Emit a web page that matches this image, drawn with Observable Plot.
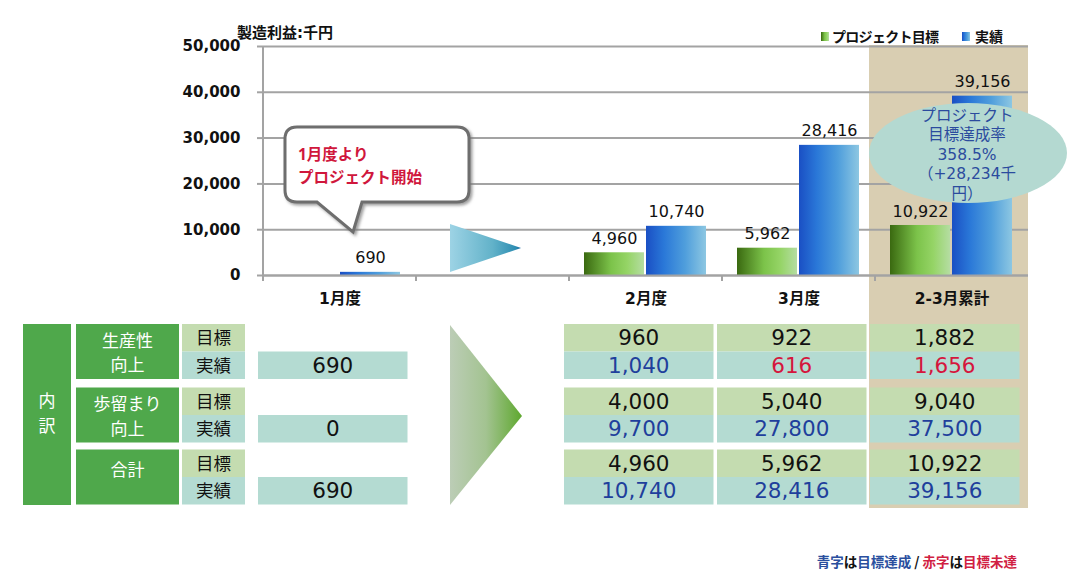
<!DOCTYPE html>
<html><head><meta charset="utf-8">
<script src="https://cdn.jsdelivr.net/npm/d3@7"></script>
<script src="https://cdn.jsdelivr.net/npm/@observablehq/plot@0.6"></script>
<style>
body{margin:0;background:#fff;}
#chart{position:relative;width:1081px;height:588px;}
</style></head><body><div id="chart"></div>
<script>
// ---- data ----
const months = ["1月度", " ", "2月度", "3月度", "2-3月累計"];
const seriesNames = ["プロジェクト目標", "実績"];
const targetValues = [null, null, 4960, 5962, 10922];
const actualValues = [690, null, 10740, 28416, 39156];
const yTicks = [0, 10000, 20000, 30000, 40000, 50000];
const yTitle = "製造利益:千円";

const tableGroups = ["生産性\n向上", "歩留まり\n向上", "合計"];
const tableRowLabels = ["目標", "実績"];
const tableSide = "内訳";
const prodTarget = [null, null, 960, 922, 1882];
const prodActual = [690, null, 1040, 616, 1656];
const yieldTarget = [null, null, 4000, 5040, 9040];
const yieldActual = [0, null, 9700, 27800, 37500];
const totalTarget = [null, null, 4960, 5962, 10922];
const totalActual = [690, null, 10740, 28416, 39156];

const rateLines = ["プロジェクト", "目標達成率", "358.5%", "（+28,234千", "円）"];
const calloutLines = ["1月度より", "プロジェクト開始"];
const noteParts = [["青字", "blue"], ["は", "black"], ["目標達成", "blue"], [" / ", "black"], ["赤字", "red"], ["は", "black"], ["目標未達", "red"]];

// ---- colours ----
const C = {grid: "#a3a3a3", tan: "#d9ceb2", dark: "#4fa84b", lightGreen: "#c4dcb0", lightTeal: "#b4dbd2",
  blue: "#1f3f9c", red: "#d5163d", ellipse: "#b4d9d1", ellipseText: "#2b4b9e", callout: "#d0173c"};

const fmt = d3.format(",");
const allData = months.flatMap((m, i) => [
  {month: m, series: seriesNames[0], value: targetValues[i]},
  {month: m, series: seriesNames[1], value: actualValues[i]}
]);
const barData = allData.filter(d => d.value != null);

const plot = Plot.plot({
  width: 1081, height: 588,
  marginTop: 46, marginBottom: 313, marginLeft: 263, marginRight: 53,
  style: {fontFamily: "'DejaVu Sans', 'Noto Sans CJK JP', sans-serif", fontSize: "14px", background: "transparent", overflow: "visible", color: "#111"},
  fx: {domain: months, padding: 0, label: null},
  x: {domain: seriesNames, paddingInner: 0.03, paddingOuter: 0.23, axis: null},
  y: {domain: [0, 50000], label: null},
  marks: [
    Plot.gridY(yTicks, {stroke: C.grid, strokeOpacity: 1, strokeWidth: 2}),
    Plot.barY(allData, {fx: "month", x: "series", y: "value", fill: "url(#gradGreen)", filter: d => d.series === seriesNames[0]}),
    Plot.barY(allData, {fx: "month", x: "series", y: "value", fill: "url(#gradBlue)", filter: d => d.series === seriesNames[1]}),
    Plot.ruleY([0], {stroke: C.grid, strokeWidth: 2}),
    Plot.text(barData, {fx: "month", x: "series", y: "value", text: d => fmt(d.value), dy: -14, fontSize: 16, fill: "#111"}),
    Plot.axisY(yTicks, {tickFormat: fmt, tickSize: 6, tickPadding: 17, stroke: C.grid, strokeWidth: 2, fill: "#111", fontSize: 15, fontWeight: "bold", label: null, facetAnchor: "left"}),
    Plot.axisFx({anchor: "bottom", tickSize: 0, tickPadding: 17, fontSize: 15.5, fontWeight: "bold", fill: "#111", label: null})
  ]
});
document.getElementById("chart").appendChild(plot);

// ---- decorations derived from the plot's scales ----
const svg = d3.select(plot);
const fx = plot.scale("fx");
const ys = plot.scale("y");
const bw = fx.bandwidth;
const [fx0, fx1] = fx.range;
const y0 = ys.apply(0), yTop = ys.apply(50000);

const defs = svg.append("defs");
function grad(id, stops) {
  const g = defs.append("linearGradient").attr("id", id).attr("x1", 0).attr("x2", 1).attr("y1", 0).attr("y2", 0);
  stops.forEach(([o, c]) => g.append("stop").attr("offset", o).attr("stop-color", c));
}
grad("gradGreen", [[0, "#3a6910"], [0.45, "#7cc34a"], [0.72, "#95d466"], [1, "#b5dda2"]]);
grad("gradBlue", [[0, "#1a4fc4"], [0.3, "#2a78d8"], [0.65, "#4f9edc"], [1, "#8dc7e2"]]);
grad("gradArrowBlue", [[0, "#9dd3e5"], [0.6, "#62b2c9"], [0.93, "#2d8db2"], [1, "#11609f"]]);
grad("gradArrowGreen", [[0, "#bccdb6"], [0.5, "#a3c391"], [1, "#5ea82e"]]);
const f = defs.append("filter").attr("id", "shadow").attr("x", "-10%").attr("y", "-10%").attr("width", "130%").attr("height", "140%");
f.append("feDropShadow").attr("dx", 2).attr("dy", 2).attr("stdDeviation", 1.5).attr("flood-color", "#777").attr("flood-opacity", 0.7);

// tan highlight behind the cumulative column (chart + table)
const lastX = fx.apply(months[4]);
svg.insert("rect", ":first-child").attr("x", lastX - 6).attr("y", yTop - 1).attr("width", fx1 - lastX + 6).attr("height", 508 - yTop + 1).attr("fill", C.tan);

// axis lines and category ticks
svg.append("line").attr("x1", fx0).attr("x2", fx0).attr("y1", yTop).attr("y2", y0 + 6).attr("stroke", C.grid).attr("stroke-width", 2);
months.slice(1).forEach(m => {
  const x = fx.apply(m);
  svg.append("line").attr("x1", x).attr("x2", x).attr("y1", y0).attr("y2", y0 + 6).attr("stroke", C.grid).attr("stroke-width", 2);
});

// y title
svg.append("text").attr("x", 237).attr("y", 38).attr("text-anchor", "start").attr("font-size", 15).attr("font-weight", "bold").attr("fill", "#111").text(yTitle);

// legend
const lg = svg.append("g").attr("font-size", 14).attr("font-weight", "bold").attr("fill", "#111").attr("text-anchor", "start");
lg.append("rect").attr("x", 821).attr("y", 32).attr("width", 8).attr("height", 9).attr("fill", "url(#gradGreen)");
lg.append("text").attr("x", 832).attr("y", 42).attr("letter-spacing", "-0.7px").text(seriesNames[0]);
lg.append("rect").attr("x", 962).attr("y", 32).attr("width", 8).attr("height", 9).attr("fill", "url(#gradBlue)");
lg.append("text").attr("x", 975).attr("y", 42).text(seriesNames[1]);

// callout
const cg = svg.append("g");
cg.append("path").attr("d", "M297,127 H457 Q469,127 469,139 V190 Q469,202 457,202 H362 L353,232 L317,202 H297 Q285,202 285,190 V139 Q285,127 297,127 Z")
  .attr("fill", "#fff").attr("stroke", "#6e6e6e").attr("stroke-width", 3).attr("filter", "url(#shadow)");
calloutLines.forEach((t, i) => cg.append("text").attr("x", 298).attr("y", 160 + i * 23).attr("text-anchor", "start").attr("font-size", 15.5).attr("font-weight", "bold").attr("fill", C.callout).attr("font-family", "'Noto Sans', 'Noto Sans CJK JP', sans-serif").text(t));

// arrow in the chart's empty column
const gapX = fx.apply(months[1]);
svg.append("polygon").attr("points", `${gapX + 34},224 ${gapX + 34},272 ${gapX + 105},248`).attr("fill", "url(#gradArrowBlue)");

// achievement ellipse
const eg = svg.append("g").attr("font-family", "'DejaVu Sans', 'Noto Sans CJK JP', sans-serif");
eg.append("ellipse").attr("cx", 968).attr("cy", 153).attr("rx", 99).attr("ry", 50).attr("fill", C.ellipse);
rateLines.forEach((t, i) => eg.append("text").attr("x", 967).attr("y", 115 + i * 19.5).attr("dy", "0.36em").attr("text-anchor", "middle")
  .attr("font-size", 15.5).attr("fill", C.ellipseText).text(t));

// ---- table ----
const tg = svg.append("g").attr("font-family", "'Noto Sans', 'Noto Sans CJK JP', sans-serif");
svg.append("polygon").attr("points", `${gapX + 34},325 ${gapX + 34},505 ${gapX + 106},416`).attr("fill", "url(#gradArrowGreen)");
tg.append("rect").attr("x", 23).attr("y", 324).attr("width", 48).attr("height", 181).attr("fill", C.dark);
[...tableSide].forEach((ch, i) => tg.append("text").attr("x", 47).attr("y", 401 + i * 24.6).attr("dy", "0.36em").attr("text-anchor", "middle")
  .attr("font-size", 17).attr("fill", "#fff").text(ch));

const groups = [
  {label: tableGroups[0], target: prodTarget, actual: prodActual},
  {label: tableGroups[1], target: yieldTarget, actual: yieldActual},
  {label: tableGroups[2], target: totalTarget, actual: totalActual}
];
const groupTops = [324, 387.5, 449.5];
const rowH = 27.5;
groups.forEach((grp, k) => {
  const top = groupTops[k];
  tg.append("rect").attr("x", 76).attr("y", top).attr("width", 103).attr("height", rowH * 2).attr("fill", C.dark);
  const lines = grp.label.split("\n");
  lines.forEach((t, j) => tg.append("text").attr("x", 127.5)
    .attr("y", lines.length === 1 ? top + 20 : top + 16.5 + j * 24.6).attr("dy", "0.36em")
    .attr("text-anchor", "middle").attr("font-size", 17).attr("fill", "#fff").text(t));
  tableRowLabels.forEach((t, r) => {
    tg.append("rect").attr("x", 182).attr("y", top + r * rowH).attr("width", 63).attr("height", rowH).attr("fill", r === 0 ? C.lightGreen : C.lightTeal);
    tg.append("text").attr("x", 213.5).attr("y", top + r * rowH + rowH / 2).attr("dy", "0.36em").attr("text-anchor", "middle")
      .attr("font-size", 17.5).attr("fill", "#111").text(t);
  });
  months.forEach((m, i) => {
    const x = fx.apply(m) - 5, w = bw - 3.5;
    const tv = grp.target[i], av = grp.actual[i];
    if (tv != null) {
      tg.append("rect").attr("x", x).attr("y", top).attr("width", w).attr("height", rowH).attr("fill", C.lightGreen);
      tg.append("text").attr("x", x + w / 2).attr("y", top + rowH / 2).attr("dy", "0.36em").attr("text-anchor", "middle")
        .attr("font-family", "'DejaVu Sans', sans-serif").attr("font-size", 21.5).attr("fill", "#111").text(fmt(tv));
    }
    if (av != null) {
      const col = tv == null ? "#111" : (av >= tv ? C.blue : C.red);
      tg.append("rect").attr("x", x).attr("y", top + rowH).attr("width", w).attr("height", rowH).attr("fill", C.lightTeal);
      tg.append("text").attr("x", x + w / 2).attr("y", top + rowH * 1.5).attr("dy", "0.36em").attr("text-anchor", "middle")
        .attr("font-family", "'DejaVu Sans', sans-serif").attr("font-size", 21.5).attr("fill", col).text(fmt(av));
    }
  });
});

// footnote
const nt = svg.append("text").attr("x", 1017).attr("y", 567).attr("text-anchor", "end").attr("font-size", 13.5).attr("font-weight", "bold")
  .attr("font-family", "'Noto Sans CJK JP', sans-serif");
const noteColors = {blue: "#2a4f9e", red: "#d11f43", black: "#111"};
noteParts.forEach(([t, c]) => nt.append("tspan").attr("fill", noteColors[c]).attr("xml:space", "preserve").text(t));
</script></body></html>
